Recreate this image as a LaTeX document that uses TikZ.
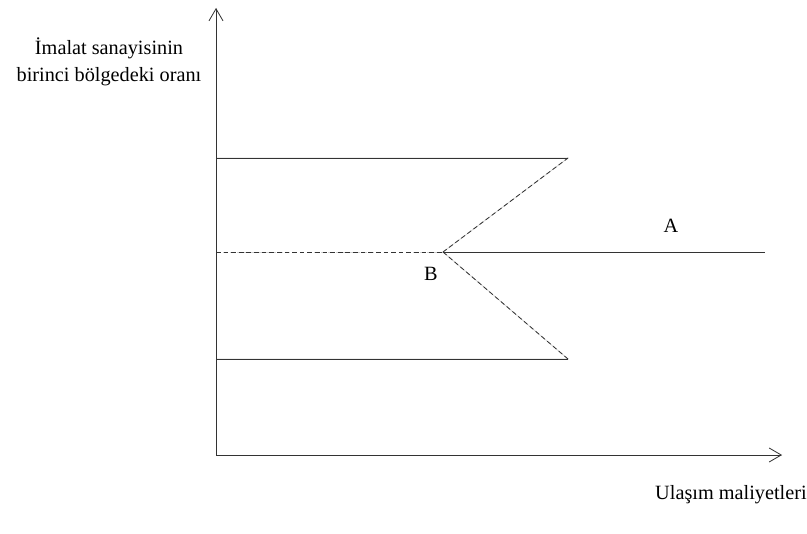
\documentclass[tikz,border=0pt]{standalone}
\usepackage{fontspec}
\setmainfont{Liberation Serif}
\usetikzlibrary{arrows.meta,positioning,calc}
\tikzset{
  axisarr/.style={-{Straight Barb[length=3.6mm,width=4.2mm]}, line width=0.7pt, draw=black!80},
  plotline/.style={line width=0.7pt, draw=black!80},
  plotdash/.style={plotline, dash pattern=on 4pt off 2.5pt},
  shade/.style={line width=0.6pt, draw=black!18},
  lbl/.style={font=\fontsize{17.3}{23}\selectfont, inner sep=0pt, align=center},
}
\begin{document}
\begin{tikzpicture}[x=0.03cm, y=-0.03cm]
  \useasboundingbox (0,0) rectangle (807,534);
  % corner points
  \coordinate (O) at (216,455);
  \coordinate (ytop) at (216,8);
  \coordinate (xend) at (782,455);
  \coordinate (tl) at (216,158);
  \coordinate (tr) at (568,158);
  \coordinate (ml) at (216,252);
  \coordinate (kink) at (443,252);
  \coordinate (mr) at (765,252);
  \coordinate (bl) at (216,359);
  \coordinate (br) at (568,359);
  % faint copies
  \begin{scope}[shift={(3.5,3.5)}]
    \draw[shade] (O) -- (ytop);
    \draw[shade] (O) -- (xend);
    \draw[shade] (tl) -- (tr) -- (kink) -- (br) -- (bl);
    \draw[shade, dashed] (ml) -- (kink);
    \draw[shade] (kink) -- (mr);
  \end{scope}
  % axes
  \draw[axisarr] (O) -- (ytop);
  \draw[axisarr] (O) -- (xend);
  % branches
  \draw[plotline] (tl) -- (tr);
  \draw[plotline] (bl) -- (br);
  \draw[plotdash] (ml) -- (kink);
  \draw[plotdash] (kink) -- (tr);
  \draw[plotdash] (kink) -- (br);
  \draw[plotline] (kink) -- (mr);
  % labels
  \node[lbl] (ylab) at (109,62) {İmalat sanayisinin\\birinci bölgedeki oranı};
  \node[lbl, anchor=west] (xlab) at (655,495) {Ulaşım maliyetleri};
  \node[lbl] (labA) at (671,226) {A};
  \node[lbl] (labB) at (431,274) {B};
\end{tikzpicture}
\end{document}
